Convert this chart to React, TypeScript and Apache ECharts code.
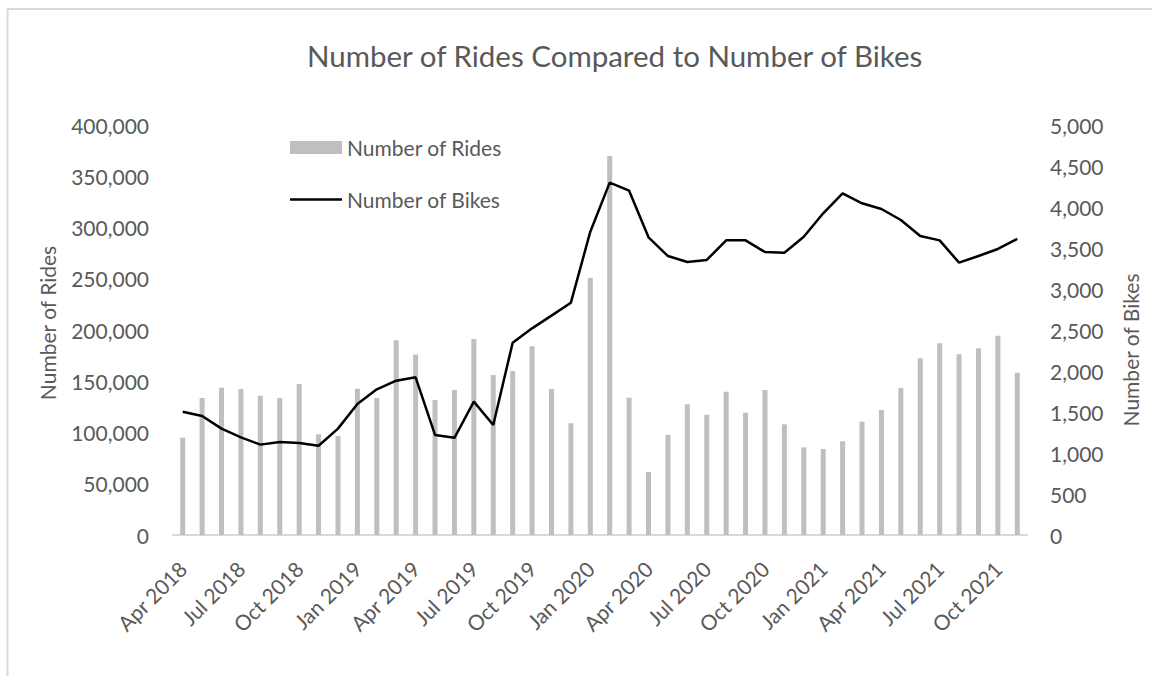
import React, { useEffect, useRef } from "react";
import * as echarts from "echarts";

const categories: string[] = [
  "Apr 2018", "May 2018", "Jun 2018", "Jul 2018", "Aug 2018", "Sep 2018", "Oct 2018", "Nov 2018", "Dec 2018",
  "Jan 2019", "Feb 2019", "Mar 2019", "Apr 2019", "May 2019", "Jun 2019", "Jul 2019", "Aug 2019", "Sep 2019",
  "Oct 2019", "Nov 2019", "Dec 2019", "Jan 2020", "Feb 2020", "Mar 2020", "Apr 2020", "May 2020", "Jun 2020",
  "Jul 2020", "Aug 2020", "Sep 2020", "Oct 2020", "Nov 2020", "Dec 2020", "Jan 2021", "Feb 2021", "Mar 2021",
  "Apr 2021", "May 2021", "Jun 2021", "Jul 2021", "Aug 2021", "Sep 2021", "Oct 2021", "Nov 2021",
];

const rides: number[] = [
  95000, 133700, 143700, 142400, 135900, 133700, 147300, 98200, 96600,
  142700, 133700, 190000, 176000, 131700, 141500, 191200, 156100, 160000,
  184100, 142400, 109000, 250700, 369800, 134000, 61500, 97600, 127500,
  117400, 139800, 119300, 141500, 108000, 85500, 83900, 91400, 110600,
  122000, 143400, 172400, 187000, 176300, 182100, 194500, 158400,
];

const bikes: number[] = [
  1504, 1451, 1297, 1191, 1102, 1134, 1122, 1089, 1297,
  1598, 1776, 1882, 1923, 1220, 1185, 1626, 1341, 2345,
  2520, 2675, 2833, 3699, 4297, 4199, 3630, 3402, 3329,
  3354, 3593, 3593, 3451, 3443, 3638, 3923, 4167, 4045,
  3976, 3841, 3646, 3593, 3321, 3402, 3488, 3610,
];

const titleText = "Number of Rides Compared to Number of Bikes";
const ridesName = "Number of Rides";
const bikesName = "Number of Bikes";

const FONT = "Lato, 'Open Sans', sans-serif";
const TEXT = "#595959";

const fmt = (v: number) => v.toLocaleString("en-US");

export default function App() {
  const ref = useRef<HTMLDivElement>(null);
  useEffect(() => {
    if (!ref.current) return;
    const chart = echarts.init(ref.current, null, { renderer: "svg" });
    chart.setOption({
      animation: false,
      backgroundColor: "#ffffff",
      textStyle: { fontFamily: FONT },
      title: {
        text: titleText,
        left: 302,
        top: 35,
        textStyle: { fontFamily: FONT, fontSize: 29.5, fontWeight: "normal", color: TEXT },
      },
      legend: {
        orient: "vertical",
        left: 285,
        top: 132,
        itemWidth: 52,
        itemHeight: 13,
        itemGap: 31,
        textStyle: { fontFamily: FONT, fontSize: 21, color: TEXT },
        data: [
          { name: ridesName, icon: "rect" },
          { name: bikesName, icon: "path://M0,0H52V2.5H0Z" },
        ],
      },
      grid: { left: 173, right: 125, top: 125, bottom: 141, containLabel: false },
      xAxis: {
        type: "category",
        data: categories,
        boundaryGap: true,
        axisLine: { show: true, lineStyle: { color: "#d9d9d9", width: 2 } },
        axisTick: { show: false },
        axisLabel: {
          interval: 2,
          rotate: 45,
          margin: 30,
          fontFamily: FONT,
          fontSize: 21,
          color: TEXT,
        },
      },
      yAxis: [
        {
          type: "value",
          min: 0,
          max: 400000,
          interval: 50000,
          splitLine: { show: false },
          axisLine: { show: false },
          axisTick: { show: false },
          axisLabel: { formatter: fmt, margin: 24, fontFamily: FONT, fontSize: 21, color: TEXT },
        },
        {
          type: "value",
          min: 0,
          max: 5000,
          interval: 500,
          splitLine: { show: false },
          axisLine: { show: false },
          axisTick: { show: false },
          axisLabel: { formatter: fmt, margin: 23, fontFamily: FONT, fontSize: 21, color: TEXT },
        },
      ],
      series: [
        {
          name: ridesName,
          type: "bar",
          data: rides,
          yAxisIndex: 0,
          barWidth: 5,
          itemStyle: { color: "#bfbfbf" },
        },
        {
          name: bikesName,
          type: "line",
          data: bikes,
          yAxisIndex: 1,
          showSymbol: false,
          symbol: "none",
          lineStyle: { color: "#000000", width: 2.5 },
          itemStyle: { color: "#000000" },
        },
      ],
      graphic: [
        { type: "line", shape: { x1: 7.5, y1: 9, x2: 7.5, y2: 676 }, style: { stroke: "#d9d9d9", lineWidth: 2 }, silent: true },
        { type: "line", shape: { x1: 7, y1: 9, x2: 1152, y2: 9 }, style: { stroke: "#d9d9d9", lineWidth: 2 }, silent: true },
        {
          type: "text",
          x: 47,
          y: 323,
          rotation: Math.PI / 2,
          style: { text: ridesName, fontFamily: FONT, fontSize: 21, fill: TEXT, align: "center", verticalAlign: "middle" },
        },
        {
          type: "text",
          x: 1130,
          y: 350,
          rotation: Math.PI / 2,
          style: { text: bikesName, fontFamily: FONT, fontSize: 21, fill: TEXT, align: "center", verticalAlign: "middle" },
        },
      ],
    });
    return () => chart.dispose();
  }, []);
  return (
    <div
      ref={ref}
      style={{ position: "fixed", left: 0, top: 0, width: 1152, height: 676, background: "#fff" }}
    />
  );
}
